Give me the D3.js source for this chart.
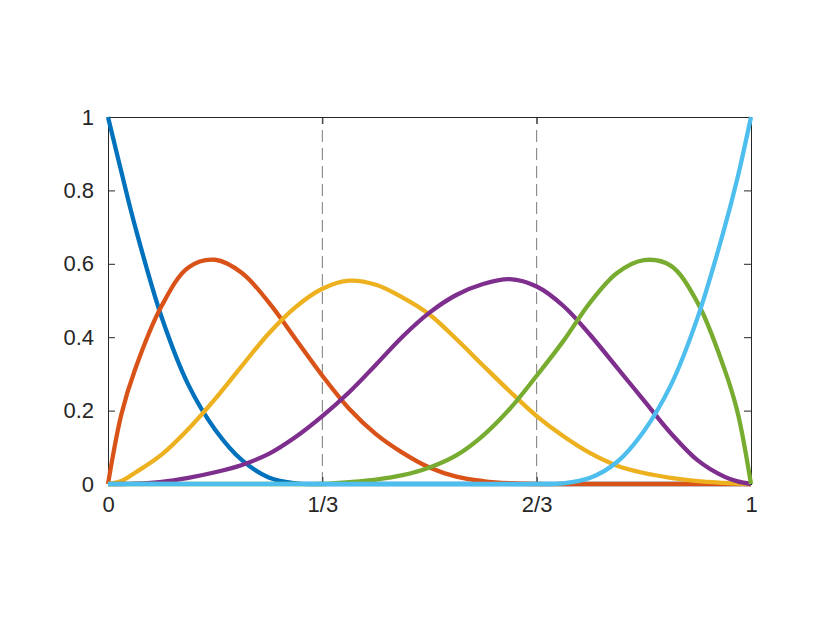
<!DOCTYPE html>
<html>
<head>
<meta charset="utf-8">
<script src="https://cdn.jsdelivr.net/npm/d3@7"></script>
<style>
  html, body { margin: 0; padding: 0; background: #ffffff; }
  svg { display: block; }
</style>
</head>
<body>
<script>
// ---- data ----
const xs = [0, 1/48, 1/24, 2/24, 3/24, 4/24, 5/24, 6/24, 7/24, 8/24, 9/24, 10/24, 11/24, 12/24,
            13/24, 14/24, 15/24, 16/24, 17/24, 18/24, 19/24, 20/24, 21/24, 22/24, 23/24, 47/48, 1];

const basis1 = [1, 0.85, 0.705, 0.455, 0.27, 0.148, 0.065, 0.018, 0.002, 0, 0, 0, 0, 0,
                0, 0, 0, 0, 0, 0, 0, 0, 0, 0, 0, 0, 0];
const basis2 = [0, 0.19, 0.31, 0.485, 0.59, 0.611, 0.575, 0.495, 0.395, 0.295, 0.205, 0.136, 0.085, 0.045,
                0.02, 0.008, 0.002, 0, 0, 0, 0, 0, 0, 0, 0, 0, 0];
const basis3 = [0, 0.008, 0.03, 0.08, 0.15, 0.232, 0.322, 0.41, 0.482, 0.532, 0.554, 0.543, 0.508, 0.462,
                0.395, 0.323, 0.252, 0.185, 0.13, 0.084, 0.05, 0.03, 0.017, 0.008, 0.003, 0.001, 0];
const basis4 = [0, 0, 0.001, 0.006, 0.017, 0.032, 0.052, 0.082, 0.128, 0.185, 0.25, 0.325, 0.402, 0.467,
                0.515, 0.545, 0.558, 0.538, 0.485, 0.406, 0.317, 0.228, 0.139, 0.065, 0.02, 0.007, 0];
const basis5 = [0, 0, 0, 0, 0, 0, 0, 0, 0, 0, 0.005, 0.012, 0.024, 0.045,
                0.078, 0.132, 0.205, 0.295, 0.39, 0.495, 0.575, 0.61, 0.595, 0.495, 0.315, 0.195, 0];
const basis6 = [0, 0, 0, 0, 0, 0, 0, 0, 0, 0, 0, 0, 0, 0,
                0, 0, 0, 0, 0.002, 0.017, 0.06, 0.144, 0.268, 0.452, 0.695, 0.835, 1];

const seriesValues = [basis1, basis2, basis3, basis4, basis5, basis6];
const seriesColors = ["#0072BD", "#D95319", "#EDB120", "#7E2F8E", "#77AC30", "#4DBEEE"];

const xTickValues = [0, 1/3, 2/3, 1];
const xTickLabels = ["0", "1/3", "2/3", "1"];
const yTickValues = [0, 0.2, 0.4, 0.6, 0.8, 1];
const knotLines = [1/3, 2/3];

// ---- layout ----
const W = 830, H = 623;
const plotLeft = 108, plotRight = 751, plotTop = 117, plotBottom = 484;
const axisColor = "#262626";
const fontFamily = "'Liberation Sans', Arial, Helvetica, sans-serif";

const svg = d3.select("body").append("svg")
  .attr("width", W).attr("height", H)
  .style("background", "#ffffff");

const x = d3.scaleLinear().domain([0, 1]).range([plotLeft, plotRight]);
const y = d3.scaleLinear().domain([0, 1]).range([plotBottom, plotTop]);

// knot lines (dashed)
svg.append("g").selectAll("line").data(knotLines).join("line")
  .attr("x1", d => x(d)).attr("x2", d => x(d))
  .attr("y1", y(0)).attr("y2", y(1))
  .attr("stroke", "#7a7a7a").attr("stroke-width", 1)
  .attr("stroke-dasharray", "12,6");

// axes
function styleAxis(g) {
  g.select(".domain").remove();
  g.selectAll(".tick line").attr("stroke", axisColor).attr("stroke-width", 1);
  g.selectAll(".tick text").attr("fill", axisColor)
    .style("font-family", fontFamily).style("font-size", "22px");
}

svg.append("g").attr("transform", `translate(${plotLeft},0)`)
  .call(d3.axisLeft(y).tickValues(yTickValues).tickSize(-7).tickPadding(14).tickFormat(d3.format("~g")))
  .call(styleAxis);

svg.append("g").attr("transform", `translate(${plotRight},0)`)
  .call(d3.axisRight(y).tickValues(yTickValues).tickSize(-7).tickFormat(""))
  .call(styleAxis);

svg.append("g").attr("transform", `translate(0,${plotBottom})`)
  .call(d3.axisBottom(x).tickValues(xTickValues).tickSize(-7).tickPadding(12)
        .tickFormat((d, i) => xTickLabels[i]))
  .call(styleAxis);

svg.append("g").attr("transform", `translate(0,${plotTop})`)
  .call(d3.axisTop(x).tickValues(xTickValues).tickSize(-7).tickFormat(""))
  .call(styleAxis);

// box
svg.append("rect")
  .attr("x", plotLeft).attr("y", plotTop)
  .attr("width", plotRight - plotLeft).attr("height", plotBottom - plotTop)
  .attr("fill", "none").attr("stroke", axisColor).attr("stroke-width", 1)
  .attr("shape-rendering", "crispEdges");

// curves
const line = d3.line()
  .x((d, i) => x(xs[i]))
  .y(d => y(d))
  .curve(d3.curveCatmullRom.alpha(0.5));

svg.append("g").selectAll("path").data(seriesValues).join("path")
  .attr("d", d => line(d))
  .attr("fill", "none")
  .attr("stroke", (d, i) => seriesColors[i])
  .attr("stroke-width", 4.3)
  .attr("stroke-linejoin", "round")
  .attr("stroke-linecap", "butt");
</script>
</body>
</html>
